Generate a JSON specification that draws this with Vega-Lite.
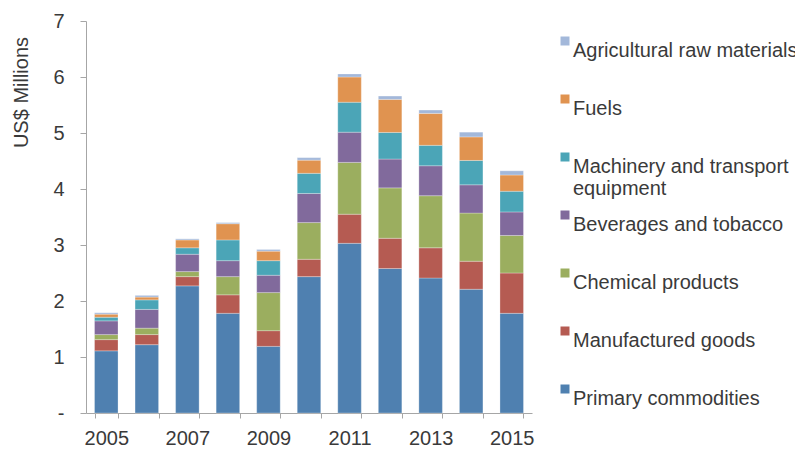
{
  "$schema": "https://vega.github.io/schema/vega-lite/v6.json",
  "autosize": {"type": "none"},
  "width": 446,
  "height": 392,
  "padding": {"left": 86, "top": 21, "right": 263, "bottom": 38},
  "background": "white",
  "config": {
    "view": {"stroke": null},
    "font": "Liberation Sans",
    "axis": {"labelFont": "Liberation Sans", "titleFont": "Liberation Sans", "labelColor": "#3a3a3a", "titleColor": "#3a3a3a", "labelFontSize": 20, "titleFontSize": 20, "titleFontWeight": "normal", "domainColor": "#a6a6a6", "tickColor": "#a6a6a6", "grid": false},
    "legend": {"labelFont": "Liberation Sans", "labelFontSize": 20, "labelColor": "#3a3a3a"}
  },
  "data": {"values": [
    {"year": "2005", "category": "Primary commodities", "value": 1.11},
    {"year": "2005", "category": "Manufactured goods", "value": 0.20},
    {"year": "2005", "category": "Chemical products", "value": 0.09},
    {"year": "2005", "category": "Beverages and tobacco", "value": 0.245},
    {"year": "2005", "category": "Machinery and transport equipment", "value": 0.065},
    {"year": "2005", "category": "Fuels", "value": 0.055},
    {"year": "2005", "category": "Agricultural raw materials", "value": 0.025},
    {"year": "2006", "category": "Primary commodities", "value": 1.22},
    {"year": "2006", "category": "Manufactured goods", "value": 0.18},
    {"year": "2006", "category": "Chemical products", "value": 0.115},
    {"year": "2006", "category": "Beverages and tobacco", "value": 0.335},
    {"year": "2006", "category": "Machinery and transport equipment", "value": 0.17},
    {"year": "2006", "category": "Fuels", "value": 0.05},
    {"year": "2006", "category": "Agricultural raw materials", "value": 0.03},
    {"year": "2007", "category": "Primary commodities", "value": 2.27},
    {"year": "2007", "category": "Manufactured goods", "value": 0.165},
    {"year": "2007", "category": "Chemical products", "value": 0.09},
    {"year": "2007", "category": "Beverages and tobacco", "value": 0.31},
    {"year": "2007", "category": "Machinery and transport equipment", "value": 0.115},
    {"year": "2007", "category": "Fuels", "value": 0.14},
    {"year": "2007", "category": "Agricultural raw materials", "value": 0.02},
    {"year": "2008", "category": "Primary commodities", "value": 1.78},
    {"year": "2008", "category": "Manufactured goods", "value": 0.33},
    {"year": "2008", "category": "Chemical products", "value": 0.325},
    {"year": "2008", "category": "Beverages and tobacco", "value": 0.285},
    {"year": "2008", "category": "Machinery and transport equipment", "value": 0.37},
    {"year": "2008", "category": "Fuels", "value": 0.29},
    {"year": "2008", "category": "Agricultural raw materials", "value": 0.02},
    {"year": "2009", "category": "Primary commodities", "value": 1.19},
    {"year": "2009", "category": "Manufactured goods", "value": 0.28},
    {"year": "2009", "category": "Chemical products", "value": 0.68},
    {"year": "2009", "category": "Beverages and tobacco", "value": 0.31},
    {"year": "2009", "category": "Machinery and transport equipment", "value": 0.26},
    {"year": "2009", "category": "Fuels", "value": 0.17},
    {"year": "2009", "category": "Agricultural raw materials", "value": 0.03},
    {"year": "2010", "category": "Primary commodities", "value": 2.435},
    {"year": "2010", "category": "Manufactured goods", "value": 0.31},
    {"year": "2010", "category": "Chemical products", "value": 0.655},
    {"year": "2010", "category": "Beverages and tobacco", "value": 0.52},
    {"year": "2010", "category": "Machinery and transport equipment", "value": 0.36},
    {"year": "2010", "category": "Fuels", "value": 0.235},
    {"year": "2010", "category": "Agricultural raw materials", "value": 0.045},
    {"year": "2011", "category": "Primary commodities", "value": 3.03},
    {"year": "2011", "category": "Manufactured goods", "value": 0.52},
    {"year": "2011", "category": "Chemical products", "value": 0.925},
    {"year": "2011", "category": "Beverages and tobacco", "value": 0.54},
    {"year": "2011", "category": "Machinery and transport equipment", "value": 0.535},
    {"year": "2011", "category": "Fuels", "value": 0.45},
    {"year": "2011", "category": "Agricultural raw materials", "value": 0.055},
    {"year": "2012", "category": "Primary commodities", "value": 2.58},
    {"year": "2012", "category": "Manufactured goods", "value": 0.54},
    {"year": "2012", "category": "Chemical products", "value": 0.90},
    {"year": "2012", "category": "Beverages and tobacco", "value": 0.515},
    {"year": "2012", "category": "Machinery and transport equipment", "value": 0.475},
    {"year": "2012", "category": "Fuels", "value": 0.59},
    {"year": "2012", "category": "Agricultural raw materials", "value": 0.06},
    {"year": "2013", "category": "Primary commodities", "value": 2.41},
    {"year": "2013", "category": "Manufactured goods", "value": 0.54},
    {"year": "2013", "category": "Chemical products", "value": 0.93},
    {"year": "2013", "category": "Beverages and tobacco", "value": 0.535},
    {"year": "2013", "category": "Machinery and transport equipment", "value": 0.365},
    {"year": "2013", "category": "Fuels", "value": 0.57},
    {"year": "2013", "category": "Agricultural raw materials", "value": 0.06},
    {"year": "2014", "category": "Primary commodities", "value": 2.21},
    {"year": "2014", "category": "Manufactured goods", "value": 0.50},
    {"year": "2014", "category": "Chemical products", "value": 0.86},
    {"year": "2014", "category": "Beverages and tobacco", "value": 0.505},
    {"year": "2014", "category": "Machinery and transport equipment", "value": 0.435},
    {"year": "2014", "category": "Fuels", "value": 0.42},
    {"year": "2014", "category": "Agricultural raw materials", "value": 0.085},
    {"year": "2015", "category": "Primary commodities", "value": 1.78},
    {"year": "2015", "category": "Manufactured goods", "value": 0.72},
    {"year": "2015", "category": "Chemical products", "value": 0.67},
    {"year": "2015", "category": "Beverages and tobacco", "value": 0.42},
    {"year": "2015", "category": "Machinery and transport equipment", "value": 0.37},
    {"year": "2015", "category": "Fuels", "value": 0.29},
    {"year": "2015", "category": "Agricultural raw materials", "value": 0.075}
  ]},
  "transform": [
    {"calculate": "indexof(['Agricultural raw materials', 'Fuels', 'Machinery and transport equipment', 'Beverages and tobacco', 'Chemical products', 'Manufactured goods', 'Primary commodities'], datum.category)", "as": "rank"}
  ],
  "mark": {"type": "bar", "stroke": "#ffffff", "strokeOpacity": 0.35, "strokeWidth": 0.8},
  "encoding": {
    "x": {
      "field": "year", "type": "ordinal",
      "scale": {"paddingInner": 0.42, "paddingOuter": 0.21},
      "axis": {"title": null, "labelAngle": 0, "tickBand": "extent", "tickSize": 5, "labelPadding": 10,
        "labelExpr": "(toNumber(datum.value) - 2005) % 2 == 0 ? datum.label : ''"}
    },
    "y": {
      "field": "value", "type": "quantitative", "stack": "zero",
      "scale": {"domain": [0, 7], "nice": false},
      "axis": {"title": "US$ Millions", "values": [0, 1, 2, 3, 4, 5, 6, 7], "tickSize": 6, "labelPadding": 16,
        "labelExpr": "datum.value == 0 ? '-\u00a0\u00a0' : datum.label",
        "titleX": -65, "titleY": 71, "titleAlign": "center", "titleBaseline": "middle"}
    },
    "order": {"field": "rank", "type": "quantitative", "sort": "descending"},
    "color": {
      "field": "category", "type": "nominal",
      "sort": ["Agricultural raw materials", "Fuels", "Machinery and transport equipment", "Beverages and tobacco", "Chemical products", "Manufactured goods", "Primary commodities"],
      "scale": {"range": ["#a3b8da", "#e09350", "#4ba5b7", "#816a9c", "#9bae5f", "#b55b52", "#4f80b0"]},
      "legend": {
        "title": null, "orient": "none", "legendX": 469, "legendY": 10, "padding": 0,
        "symbolType": "square", "symbolSize": 81, "symbolStrokeWidth": 0, "symbolOpacity": 1,
        "labelOffset": -2, "labelBaseline": "top", "rowPadding": 6, "labelLimit": 400,
        "labelExpr": "datum.label == 'Machinery and transport equipment' ? ['Machinery and transport', 'equipment'] : [datum.label, '']",
        "encode": {"labels": {"update": {"dy": {"value": -15}}}}
      }
    }
  }
}
